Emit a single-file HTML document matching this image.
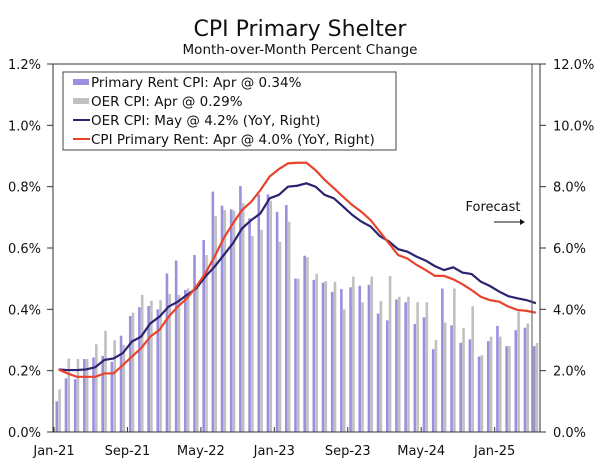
<!DOCTYPE html>
<html><head><meta charset="utf-8"><style>
body{margin:0;background:#fff;width:600px;height:459px;overflow:hidden}
text{font-family:"DejaVu Sans","Liberation Sans",sans-serif;fill:#111}
</style></head><body>
<svg id="chart" width="600" height="459" xmlns="http://www.w3.org/2000/svg">
<text x="300" y="36" text-anchor="middle" font-size="22">CPI Primary Shelter</text>
<text x="300" y="54" text-anchor="middle" font-size="13.5">Month-over-Month Percent Change</text>
<g id="bars"></g><g id="lines"></g><g id="axes"></g>
<line x1="532" y1="64" x2="532" y2="432" stroke="#555" stroke-width="1"/>
<text x="493" y="211" text-anchor="middle" font-size="13">Forecast</text>
<line x1="494" y1="222" x2="521" y2="222" stroke="#111" stroke-width="1"/>
<path d="M520 219 L525 222 L520 225 Z" fill="#111"/>
<g>
<rect x="63" y="72" width="333" height="78" fill="#fff" stroke="#444" stroke-width="1"/>
<rect x="73" y="79" width="16" height="6" fill="#9b8fe0"/>
<text x="91" y="87" font-size="13.5">Primary Rent CPI: Apr @ 0.34%</text>
<rect x="73" y="98" width="16" height="6" fill="#c0c0c0"/>
<text x="91" y="106" font-size="13.5">OER CPI: Apr @ 0.29%</text>
<line x1="73" y1="120" x2="90" y2="120" stroke="#2a2370" stroke-width="2"/>
<text x="91" y="125" font-size="13.5">OER CPI: May @ 4.2% (YoY, Right)</text>
<line x1="73" y1="139" x2="90" y2="139" stroke="#e8432c" stroke-width="2"/>
<text x="91" y="144" font-size="13.5">CPI Primary Rent: Apr @ 4.0% (YoY, Right)</text>
</g>
</svg>
<script>
const rentMoM=[0.10,0.175,0.172,0.238,0.243,0.248,0.229,0.314,0.378,0.407,0.411,0.40,0.517,0.559,0.463,0.577,0.626,0.784,0.738,0.726,0.802,0.697,0.775,0.775,0.718,0.74,0.50,0.575,0.496,0.487,0.457,0.466,0.472,0.477,0.48,0.386,0.364,0.432,0.423,0.352,0.374,0.27,0.468,0.348,0.291,0.302,0.246,0.296,0.346,0.28,0.332,0.34,0.28];
const oerMoM=[0.139,0.24,0.238,0.238,0.286,0.33,0.299,0.284,0.389,0.447,0.428,0.43,0.45,0.447,0.468,0.47,0.577,0.704,0.724,0.722,0.746,0.639,0.659,0.754,0.62,0.686,0.50,0.57,0.516,0.492,0.49,0.40,0.507,0.423,0.507,0.427,0.509,0.441,0.441,0.423,0.423,0.30,0.357,0.468,0.339,0.41,0.25,0.311,0.311,0.28,0.393,0.354,0.29];
const oerYoY=[2.04,2.02,2.02,2.04,2.11,2.35,2.40,2.57,2.95,3.11,3.54,3.76,4.09,4.25,4.47,4.68,5.07,5.39,5.77,6.15,6.64,6.91,7.13,7.62,7.73,8.0,8.03,8.11,8.0,7.73,7.62,7.35,7.08,6.86,6.70,6.39,6.21,5.96,5.88,5.72,5.59,5.41,5.28,5.37,5.20,5.15,4.90,4.76,4.58,4.43,4.36,4.30,4.20];
const rentYoY=[2.04,1.91,1.80,1.80,1.80,1.91,1.91,2.18,2.46,2.73,3.11,3.33,3.76,4.09,4.36,4.74,5.17,5.72,6.32,6.80,7.24,7.51,7.89,8.33,8.57,8.76,8.78,8.78,8.54,8.22,7.95,7.67,7.40,7.18,6.91,6.53,6.15,5.77,5.66,5.45,5.28,5.09,5.09,4.98,4.82,4.63,4.41,4.30,4.25,4.09,3.98,3.95,3.89];
const xLabels=["Jan-21","Sep-21","May-22","Jan-23","Sep-23","May-24","Jan-25"];
const leftTicks=[0,0.2,0.4,0.6,0.8,1.0,1.2];
const rightTicks=[0,2,4,6,8,10,12];
const X0=53,X1=540,Y0=432,Y1=64;
const xTick=i=>X0+1+i*9.18;
const xc=i=>xTick(i)+4.5;
const yL=v=>Y0-(v/1.2)*(Y0-Y1);
const yR=v=>Y0-(v/12)*(Y0-Y1);
const NS="http://www.w3.org/2000/svg";
function mk(t,a,p){const e=document.createElementNS(NS,t);for(const k in a)e.setAttribute(k,a[k]);p.appendChild(e);return e;}
const bars=document.getElementById('bars'),lines=document.getElementById('lines'),axes=document.getElementById('axes');
rentMoM.forEach((v,i)=>{const r=mk('rect',{x:xc(i)-3,y:yL(v),width:2.6,height:Y0-yL(v),fill:'#9b8fe0'},bars);

});
oerMoM.forEach((v,i)=>{const r=mk('rect',{x:xc(i)-0.2,y:yL(v),width:2.6,height:Y0-yL(v),fill:'#c0c0c0'},bars);

});
const l1=mk('polyline',{points:oerYoY.map((v,i)=>xc(i)+','+yR(v)).join(' '),fill:'none',stroke:'#2a2370','stroke-width':2.2},lines);


const l2=mk('polyline',{points:rentYoY.map((v,i)=>xc(i)+','+yR(v)).join(' '),fill:'none',stroke:'#e8432c','stroke-width':2.2},lines);


mk('line',{x1:X0,y1:Y1,x2:X0,y2:Y0,stroke:'#333'},axes);
mk('line',{x1:X1,y1:Y1,x2:X1,y2:Y0,stroke:'#333'},axes);
mk('line',{x1:X0,y1:Y0,x2:X1,y2:Y0,stroke:'#333'},axes);
mk('line',{x1:X0,y1:Y1,x2:X1,y2:Y1,stroke:'#333'},axes);
leftTicks.forEach(v=>{mk('line',{x1:X0-6,y1:yL(v),x2:X0,y2:yL(v),stroke:'#333'},axes);
const t=mk('text',{x:41,y:yL(v)+5,'text-anchor':'end','font-size':13},axes);t.textContent=v.toFixed(1)+'%';

});
rightTicks.forEach(v=>{mk('line',{x1:X1,y1:yR(v),x2:X1+6,y2:yR(v),stroke:'#333'},axes);
const t=mk('text',{x:553,y:yR(v)+5,'font-size':13},axes);t.textContent=v.toFixed(1)+'%';

});
xLabels.forEach((s,k)=>{const x=xTick(k*8);mk('line',{x1:x,y1:Y0-5,x2:x,y2:Y0,stroke:'#333'},axes);
const t=mk('text',{x:x,y:455,'text-anchor':'middle','font-size':13},axes);t.textContent=s;

});
</script>
</body></html>
